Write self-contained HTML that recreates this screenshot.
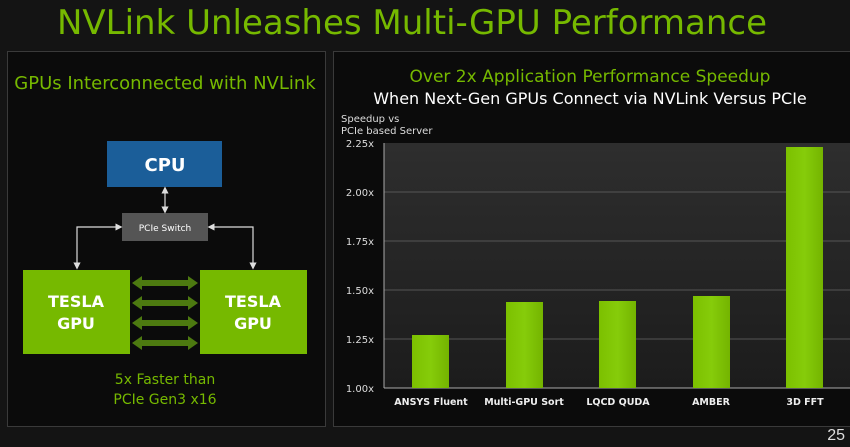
<!DOCTYPE html>
<html><head><meta charset="utf-8"><style>
body{margin:0;width:850px;height:443px;background:#141414;overflow:hidden;font-family:"DejaVu Sans","Liberation Sans",sans-serif;}
</style></head><body>
<svg width="850" height="443" xmlns="http://www.w3.org/2000/svg" font-family="DejaVu Sans, Liberation Sans, sans-serif">
<defs>
<linearGradient id="pa" x1="0" y1="0" x2="0" y2="1"><stop offset="0" stop-color="#2e2e2e"/><stop offset="1" stop-color="#1c1c1c"/></linearGradient>
<linearGradient id="bar" x1="0" y1="0" x2="1" y2="0"><stop offset="0" stop-color="#7cc000"/><stop offset="0.5" stop-color="#86cc0a"/><stop offset="1" stop-color="#74b400"/></linearGradient>
<marker id="ah" markerWidth="6" markerHeight="6" refX="3" refY="3" orient="auto-start-reverse"><path d="M0,0 L6,3 L0,6z" fill="#ddd"/></marker>
</defs>
<rect width="850" height="443" fill="#141414"/>
<text x="412" y="34" text-anchor="middle" font-size="34" fill="#76b900">NVLink Unleashes Multi-GPU Performance</text>
<rect x="7.5" y="51.5" width="318" height="375" fill="#0b0b0b" stroke="#3a3a3a"/>
<rect x="333.5" y="51.5" width="520" height="375" fill="#0b0b0b" stroke="#3a3a3a"/>
<text x="165" y="89" text-anchor="middle" font-size="18" fill="#76b900">GPUs Interconnected with NVLink</text>
<rect x="107" y="141" width="115" height="46" fill="#1b5e99"/>
<text x="165" y="171" text-anchor="middle" font-size="18" font-weight="bold" fill="#fff">CPU</text>
<rect x="122" y="213" width="86" height="28" fill="#555"/>
<text x="165" y="231" text-anchor="middle" font-size="9" fill="#fff">PCIe Switch</text>
<line x1="165" y1="190" x2="165" y2="210" stroke="#ddd" stroke-width="1.2" marker-start="url(#ah)" marker-end="url(#ah)"/>
<polyline points="77,266 77,227 119,227" fill="none" stroke="#ddd" stroke-width="1.2" marker-start="url(#ah)" marker-end="url(#ah)"/>
<polyline points="253,266 253,227 211,227" fill="none" stroke="#ddd" stroke-width="1.2" marker-start="url(#ah)" marker-end="url(#ah)"/>
<rect x="23" y="270" width="107" height="84" fill="#76b900"/>
<rect x="200" y="270" width="107" height="84" fill="#76b900"/>
<text x="76" y="307" text-anchor="middle" font-size="16" font-weight="bold" fill="#fff">TESLA</text>
<text x="76" y="329" text-anchor="middle" font-size="16" font-weight="bold" fill="#fff">GPU</text>
<text x="253" y="307" text-anchor="middle" font-size="16" font-weight="bold" fill="#fff">TESLA</text>
<text x="253" y="329" text-anchor="middle" font-size="16" font-weight="bold" fill="#fff">GPU</text>
<g fill="#4d7a10">
<path d="M132,283 l10,-7 v4 h46 v-4 l10,7 l-10,7 v-4 h-46 v4z"/>
<path d="M132,303 l10,-7 v4 h46 v-4 l10,7 l-10,7 v-4 h-46 v4z"/>
<path d="M132,323 l10,-7 v4 h46 v-4 l10,7 l-10,7 v-4 h-46 v4z"/>
<path d="M132,343 l10,-7 v4 h46 v-4 l10,7 l-10,7 v-4 h-46 v4z"/>
</g>
<text x="165" y="384" text-anchor="middle" font-size="14" fill="#76b900">5x Faster than</text>
<text x="165" y="404" text-anchor="middle" font-size="14" fill="#76b900">PCIe Gen3 x16</text>
<text x="590" y="82" text-anchor="middle" font-size="17" fill="#76b900">Over 2x Application Performance Speedup</text>
<text x="590" y="104" text-anchor="middle" font-size="16" fill="#fff">When Next-Gen GPUs Connect via NVLink Versus PCIe</text>
<text x="341" y="122" font-size="10" fill="#ddd">Speedup vs</text>
<text x="341" y="134" font-size="10" fill="#ddd">PCIe based Server</text>
<rect x="384" y="143" width="466" height="245" fill="url(#pa)"/>
<g stroke="#555" stroke-width="1">
<line x1="384" y1="192" x2="850" y2="192"/><line x1="384" y1="241" x2="850" y2="241"/>
<line x1="384" y1="290" x2="850" y2="290"/><line x1="384" y1="339" x2="850" y2="339"/>
</g>
<line x1="384" y1="143" x2="384" y2="388" stroke="#aaa"/>
<line x1="384" y1="388" x2="850" y2="388" stroke="#aaa"/>
<g font-size="10" fill="#ddd" text-anchor="end">
<text x="374" y="147">2.25x</text><text x="374" y="196">2.00x</text><text x="374" y="245">1.75x</text>
<text x="374" y="294">1.50x</text><text x="374" y="343">1.25x</text><text x="374" y="392">1.00x</text>
</g>
<g fill="url(#bar)">
<rect x="412" y="335" width="37" height="53"/>
<rect x="506" y="302" width="37" height="86"/>
<rect x="599" y="301" width="37" height="87"/>
<rect x="693" y="296" width="37" height="92"/>
<rect x="786" y="147" width="37" height="241"/>
</g>
<g font-size="9.5" font-weight="bold" fill="#eee" text-anchor="middle">
<text x="431" y="405">ANSYS Fluent</text><text x="524" y="405">Multi-GPU Sort</text>
<text x="618" y="405">LQCD QUDA</text><text x="711" y="405">AMBER</text><text x="805" y="405">3D FFT</text>
</g>
<text x="845" y="440" text-anchor="end" font-size="16" fill="#ddd" font-family="Liberation Sans, sans-serif">25</text>
</svg>
</body></html>
